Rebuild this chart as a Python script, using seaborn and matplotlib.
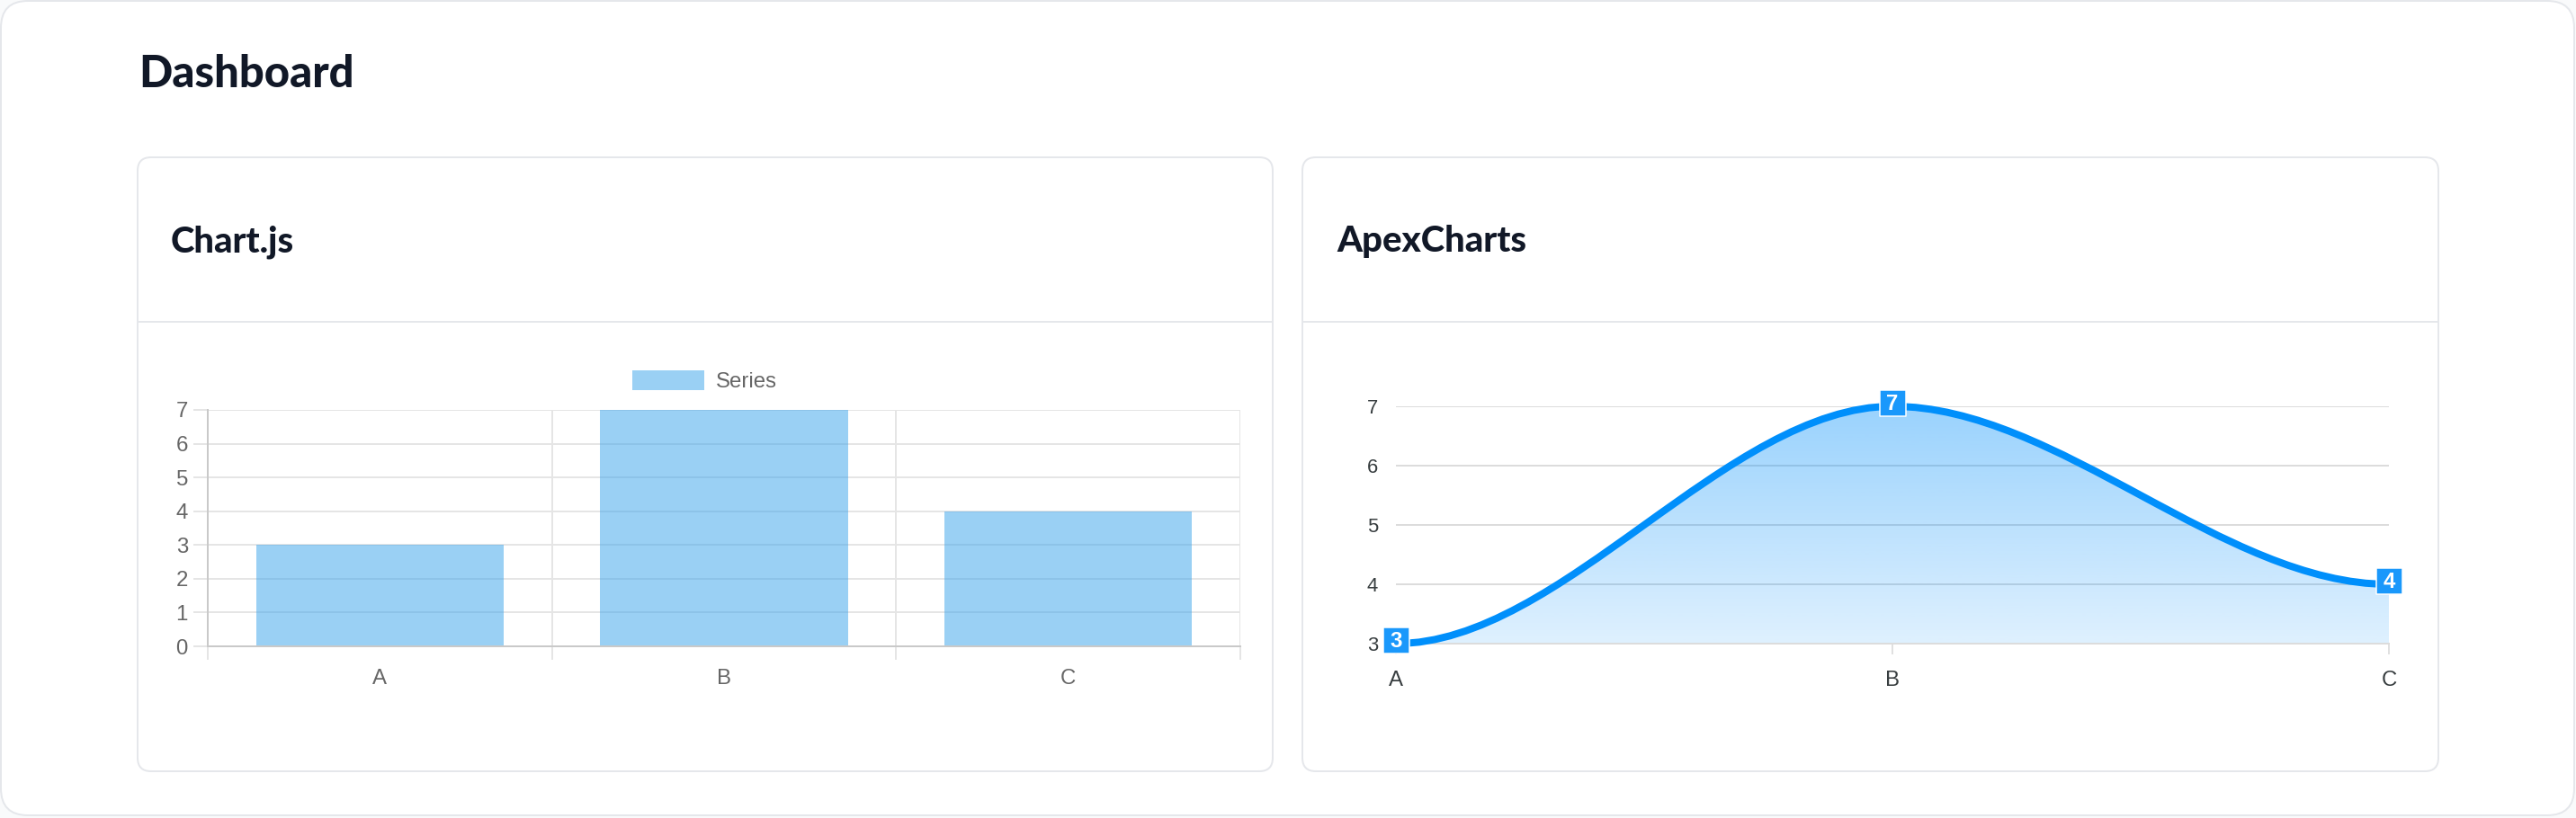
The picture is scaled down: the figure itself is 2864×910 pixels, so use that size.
import numpy as np
import pandas as pd
import seaborn as sns
import matplotlib.pyplot as plt
from matplotlib.patches import FancyBboxPatch, PathPatch, Rectangle
from matplotlib.path import Path
from matplotlib.lines import Line2D
from matplotlib.colors import LinearSegmentedColormap
from matplotlib.transforms import ScaledTranslation

# ---- data ----
categories = ["A", "B", "C"]
bar_values = [3, 7, 4]
line_values = [3, 7, 4]
series_name = "Series"
bar_ticks = [0, 1, 2, 3, 4, 5, 6, 7]
line_ticks = [3, 4, 5, 6, 7]

page_title = "Dashboard"
left_title = "Chart.js"
right_title = "ApexCharts"

# ---- sizes (pixels) ----
W, H = 2864, 910
DPI = 100
PX = 72 / DPI  # points per pixel

bar_color = "#36A2EB"
apex_blue = "#008FFB"
title_color = "#111827"
border = "#e5e7eb"

sns.set_theme(style="white")
plt.rcParams["font.family"] = ["Liberation Sans", "DejaVu Sans"]

fig = plt.figure(figsize=(W / DPI, H / DPI), dpi=DPI, facecolor="#f9fafb")


def card(x0, y0, x1, y1, r):
    p = FancyBboxPatch((x0 / DPI, (H - y1) / DPI), (x1 - x0) / DPI, (y1 - y0) / DPI,
                       boxstyle=f"round,pad=0,rounding_size={r / DPI}",
                       transform=fig.dpi_scale_trans, fc="white", ec=border,
                       lw=2 * PX, zorder=-2)
    fig.add_artist(p)


def divider(x0, x1, y):
    fig.add_artist(Line2D([x0 / DPI, x1 / DPI], [(H - y) / DPI] * 2,
                          transform=fig.dpi_scale_trans, color=border,
                          lw=2 * PX, zorder=-1))


# page + cards
card(1, 1, 2862, 907, 30)
card(153, 175, 1415, 858, 15)
card(1448, 175, 2711, 858, 15)
divider(153, 1415, 358)
divider(1448, 2711, 358)

title_font = ["Lato", "DejaVu Sans"]
fig.text(154 / W, 1 - 97 / H, page_title, fontsize=49 * PX, fontweight="black",
         family=title_font, color=title_color, va="baseline")
fig.text(190 / W, 1 - 280 / H, left_title, fontsize=40 * PX, fontweight="black",
         family=title_font, color=title_color, va="baseline")
fig.text(1486 / W, 1 - 280 / H, right_title, fontsize=40 * PX, fontweight="black",
         family=title_font, color=title_color, va="baseline")

# ---- Chart.js style bar chart ----
ax1 = fig.add_axes([231 / W, 1 - 719 / H, (1379 - 231) / W, (719 - 456) / H])
ax1.set_facecolor("none")
df_bar = pd.DataFrame({"category": categories, "value": bar_values})
sns.barplot(data=df_bar, x="category", y="value", color=bar_color, saturation=1,
            alpha=0.5, width=0.72, linewidth=0, ax=ax1, zorder=2)
ax1.set_xlim(-0.5, len(categories) - 0.5)
ax1.set_ylim(bar_ticks[0], bar_ticks[-1])
ax1.set_yticks(bar_ticks)
ax1.set_xticks(np.arange(len(categories) + 1) - 0.5, minor=True)
ax1.set_xlabel("")
ax1.set_ylabel("")
ax1.set_axisbelow(True)
ax1.yaxis.grid(True, color="#e5e5e5", lw=2 * PX)
ax1.xaxis.grid(True, which="minor", color="#e5e5e5", lw=2 * PX)
ax1.xaxis.grid(False, which="major")
ax1.tick_params(axis="y", left=True, length=16 * PX, width=2 * PX, color="#e5e5e5",
                pad=6 * PX, labelsize=24 * PX, labelcolor="#666666")
ax1.tick_params(axis="x", which="major", bottom=True, length=0, pad=25 * PX,
                labelsize=24 * PX, labelcolor="#666666")
ax1.tick_params(axis="x", which="minor", bottom=True, length=15 * PX, width=2 * PX,
                color="#e5e5e5")
for s in ["top", "right"]:
    ax1.spines[s].set_visible(False)
for s in ["left", "bottom"]:
    ax1.spines[s].set_color("#c9c9c9")
    ax1.spines[s].set_linewidth(2 * PX)

handle = Rectangle((0, 0), 1, 1, fc=bar_color, alpha=0.5, lw=0)
ax1.legend([handle], [series_name], loc="center left",
           bbox_to_anchor=(703 / W, 1 - 424 / H), bbox_transform=fig.transFigure,
           frameon=False, fontsize=24 * PX, handlelength=80 / 24, handleheight=1.0,
           handletextpad=13 / 24, borderpad=0, borderaxespad=0, labelcolor="#666666")

# ---- ApexCharts style smooth area chart ----
ax2 = fig.add_axes([1552 / W, 1 - 716 / H, (2656 - 1552) / W, (716 - 452) / H])
ax2.set_facecolor("none")
x_pos = np.arange(len(categories))

# smooth curve: cubic bezier segments with flat tangents at each point
verts = [(x_pos[0], line_values[0])]
codes = [Path.MOVETO]
for i in range(len(x_pos) - 1):
    x0, x1 = x_pos[i], x_pos[i + 1]
    y0, y1 = line_values[i], line_values[i + 1]
    dx = (x1 - x0) / 3
    verts += [(x0 + dx, y0), (x1 - dx, y1), (x1, y1)]
    codes += [Path.CURVE4] * 3
curve = Path(verts, codes)
area = Path(verts + [(x_pos[-1], line_ticks[0]), (x_pos[0], line_ticks[0]), (0, 0)],
            codes + [Path.LINETO, Path.LINETO, Path.CLOSEPOLY])

area_patch = PathPatch(area, fc="none", ec="none")
ax2.add_patch(area_patch)
grad = LinearSegmentedColormap.from_list(
    "apexfill", [(0, 143 / 255, 251 / 255, 0.13), (0, 143 / 255, 251 / 255, 0.40)])
img = ax2.imshow(np.linspace(0, 1, 256).reshape(-1, 1), cmap=grad, origin="lower",
                 extent=[x_pos[0], x_pos[-1], line_ticks[0], max(line_values)],
                 aspect="auto", interpolation="bilinear", zorder=1)
img.set_clip_path(area_patch)

ax2.add_patch(PathPatch(curve, fill=False, ec=apex_blue, lw=8 * PX, clip_on=False,
                        zorder=3, capstyle="butt"))

# data label boxes
sns.scatterplot(x=x_pos, y=line_values, marker="s", s=(29 * PX) ** 2, color="#1a98fb",
                edgecolor="white", linewidth=1.5 * PX, ax=ax2, zorder=4,
                clip_on=False, legend=False)
ax2.collections[-1].set_offset_transform(
    ax2.transData + ScaledTranslation(0, 4 / DPI, fig.dpi_scale_trans))
for xi, v in zip(x_pos, line_values):
    ax2.annotate(str(v), (xi, v), xytext=(0, -4.5 * PX), textcoords="offset points",
                 ha="center", va="baseline", fontsize=24 * PX, fontweight="bold",
                 color="white", zorder=5, annotation_clip=False)

ax2.set_xlim(x_pos[0], x_pos[-1])
ax2.set_ylim(line_ticks[0], line_ticks[-1])
ax2.set_yticks(line_ticks)
ax2.set_xticks(x_pos)
ax2.set_xticklabels(categories)
ax2.set_xlabel("")
ax2.set_ylabel("")
ax2.set_axisbelow(True)
ax2.yaxis.grid(True, color="#dcdcdc", lw=2 * PX)
ax2.xaxis.grid(False)
ax2.tick_params(axis="y", left=False, length=0, pad=20 * PX, labelsize=22 * PX,
                labelcolor="#373d3f")
ax2.tick_params(axis="x", bottom=True, length=12 * PX, width=2 * PX, color="#e0e0e0",
                pad=18 * PX, labelsize=24 * PX, labelcolor="#373d3f")
for s in ["top", "right", "left"]:
    ax2.spines[s].set_visible(False)
ax2.spines["bottom"].set_color("#dcdcdc")
ax2.spines["bottom"].set_linewidth(2 * PX)

fig.savefig("out.png", dpi=DPI, facecolor=fig.get_facecolor())
